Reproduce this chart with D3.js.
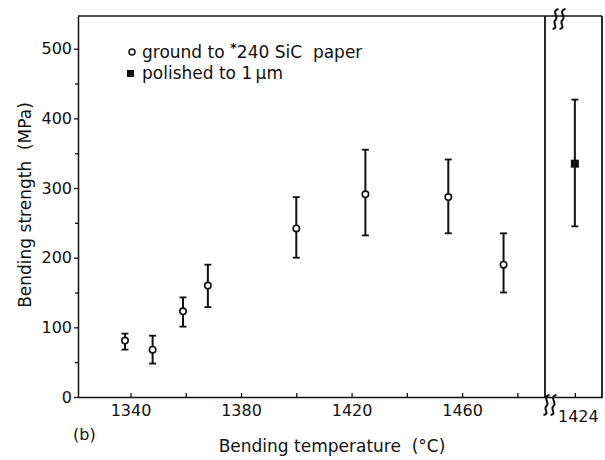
<!DOCTYPE html>
<html>
<head>
<meta charset="utf-8">
<script src="https://cdn.jsdelivr.net/npm/d3@7"></script>
<style>
  body { margin: 0; background: #fff; }
  svg { display: block; }
  text { font-family: "DejaVu Sans", sans-serif; fill: #111; white-space: pre; }
</style>
</head>
<body>
<div id="chart"></div>
<script>
// ground to #240 SiC paper
const groundTemp = [1338, 1348, 1359, 1368, 1400, 1425, 1455, 1475];
const groundMean = [81, 68, 123, 160, 242, 291, 287, 190];
const groundLow  = [68, 48, 101, 129, 200, 232, 235, 150];
const groundHigh = [91, 88, 143, 190, 287, 355, 341, 235];

// polished to 1 µm (separate panel)
const polishedTemp = [1424];
const polishedMean = [335];
const polishedLow  = [245];
const polishedHigh = [427];

const yTicks = [0, 100, 200, 300, 400, 500];
const yMinor = [50, 150, 250, 350, 450];
const xTicks = [1340, 1380, 1420, 1460];
const xMinor = [1360, 1400, 1440, 1480];

const width = 605, height = 460;
const svg = d3.select("#chart").append("svg")
  .attr("width", width)
  .attr("height", height);

// scales
const y = d3.scaleLinear().domain([0, 547]).range([397, 16]);
const x = d3.scaleLinear().domain([1321, 1490]).range([78, 545]);
const x2 = d3.scaleLinear().domain([1413, 1434]).range([545, 602]);

const ink = "#111";
const tickFont = "DejaVu Sans Condensed, DejaVu Sans, sans-serif";

// frame lines
svg.append("line").attr("x1", 78).attr("x2", 602).attr("y1", 16).attr("y2", 16)
  .attr("stroke", ink).attr("stroke-width", 1.5);
svg.append("line").attr("x1", 545).attr("x2", 545).attr("y1", 16).attr("y2", 398)
  .attr("stroke", ink).attr("stroke-width", 1.8);
svg.append("line").attr("x1", 602).attr("x2", 602).attr("y1", 16).attr("y2", 398)
  .attr("stroke", ink).attr("stroke-width", 1.8);

// y axis
const yAxis = svg.append("g").attr("transform", "translate(78,0)")
  .call(d3.axisLeft(y).tickValues(yTicks).tickSize(4).tickSizeOuter(0).tickPadding(2));
svg.append("g").attr("transform", "translate(78,0)")
  .call(d3.axisLeft(y).tickValues(yMinor).tickSize(3).tickFormat(""))
  .select(".domain").remove();
yAxis.select(".domain").attr("stroke", ink).attr("stroke-width", 1.5);

// x axis (ticks point inward)
const xAxis = svg.append("g").attr("transform", "translate(0,397)")
  .call(d3.axisBottom(x).tickValues(xTicks).tickSize(-4).tickSizeOuter(0).tickPadding(8)
    .tickFormat(d3.format("d")));
svg.append("g").attr("transform", "translate(0,397)")
  .call(d3.axisBottom(x).tickValues(xMinor).tickSize(-4).tickFormat(""))
  .select(".domain").remove();
xAxis.select(".domain").attr("stroke", ink).attr("stroke-width", 1.5);

const xAxis2 = svg.append("g").attr("transform", "translate(0,397)")
  .call(d3.axisBottom(x2).tickValues(polishedTemp).tickSize(-4).tickSizeOuter(0).tickPadding(14)
    .tickFormat(d3.format("d")));
xAxis2.select(".domain").attr("stroke", ink).attr("stroke-width", 1.5);
xAxis2.selectAll(".tick text").attr("dx", 3);

svg.selectAll(".tick line").attr("stroke", ink).attr("stroke-width", 1.3);
svg.selectAll(".tick text").attr("font-size", 16).attr("fill", ink)
  .attr("font-family", tickFont);

// break marks (double wavy "ʃʃ")
function breakMark(cx, cy) {
  const g = svg.append("g").attr("transform", `translate(${cx},${cy})`);
  g.append("rect").attr("x", -7).attr("y", -2).attr("width", 14).attr("height", 4).attr("fill", "#fff");
  [-3.5, 3.5].forEach(dx => {
    g.append("path")
      .attr("d", `M${dx + 3},-10 C${dx - 5},-8 ${dx + 4},-2 ${dx},1 C${dx - 4},4 ${dx + 4},9 ${dx - 3},10`)
      .attr("fill", "none").attr("stroke", ink).attr("stroke-width", 2);
  });
}
breakMark(559, 19);
breakMark(550, 405);

// error bars
function drawSeries(xs, temps, mean, lo, hi, filled) {
  const g = svg.append("g");
  const idx = d3.range(temps.length);
  g.selectAll("line.bar").data(idx).join("line")
    .attr("x1", i => xs(temps[i])).attr("x2", i => xs(temps[i]))
    .attr("y1", i => y(lo[i])).attr("y2", i => y(hi[i]))
    .attr("stroke", ink).attr("stroke-width", 2);
  g.selectAll("line.capTop").data(idx).join("line")
    .attr("x1", i => xs(temps[i]) - 3.5).attr("x2", i => xs(temps[i]) + 3.5)
    .attr("y1", i => y(hi[i])).attr("y2", i => y(hi[i]))
    .attr("stroke", ink).attr("stroke-width", 1.8);
  g.selectAll("line.capBot").data(idx).join("line")
    .attr("x1", i => xs(temps[i]) - 3.5).attr("x2", i => xs(temps[i]) + 3.5)
    .attr("y1", i => y(lo[i])).attr("y2", i => y(lo[i]))
    .attr("stroke", ink).attr("stroke-width", 1.8);
  if (filled) {
    g.selectAll("rect").data(idx).join("rect")
      .attr("x", i => xs(temps[i]) - 4).attr("y", i => y(mean[i]) - 4)
      .attr("width", 8).attr("height", 8).attr("fill", ink);
  } else {
    g.selectAll("circle").data(idx).join("circle")
      .attr("cx", i => xs(temps[i])).attr("cy", i => y(mean[i]))
      .attr("r", 3.2).attr("fill", "#fff").attr("stroke", ink).attr("stroke-width", 1.6);
  }
}
drawSeries(x, groundTemp, groundMean, groundLow, groundHigh, false);
drawSeries(x2, polishedTemp, polishedMean, polishedLow, polishedHigh, true);

// legend
svg.append("circle").attr("cx", 132).attr("cy", 52).attr("r", 3)
  .attr("fill", "#fff").attr("stroke", ink).attr("stroke-width", 1.5);
const leg1 = svg.append("text").attr("x", 142).attr("y", 58).attr("font-size", 17);
leg1.append("tspan").text("ground to ");
leg1.append("tspan").attr("dy", -6).attr("font-size", 13).attr("font-weight", "bold").text("*");
leg1.append("tspan").attr("dy", 6).text("240 SiC  paper");

svg.append("rect").attr("x", 127).attr("y", 70).attr("width", 7).attr("height", 7).attr("fill", ink);
svg.append("text").attr("x", 142).attr("y", 79).attr("font-size", 17).text("polished to 1\u2009\u03bcm");

// axis titles
svg.append("text").attr("transform", "translate(31,205) rotate(-90)")
  .attr("text-anchor", "middle").attr("font-size", 17).text("Bending strength  (MPa)");
svg.append("text").attr("x", 332).attr("y", 452)
  .attr("text-anchor", "middle").attr("font-size", 17).text("Bending temperature  (\u00b0C)");
svg.append("text").attr("x", 73).attr("y", 440).attr("font-size", 16).text("(b)");
</script>
</body>
</html>
